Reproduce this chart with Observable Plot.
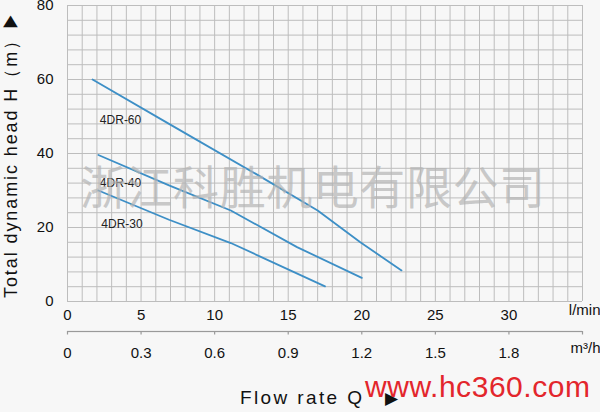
<!DOCTYPE html>
<html>
<head>
<meta charset="utf-8">
<script src="https://cdn.jsdelivr.net/npm/d3@7"></script>
<script src="https://cdn.jsdelivr.net/npm/@observablehq/plot@0.6"></script>
<style>
  html, body { margin: 0; padding: 0; background: #f7f7f7; overflow: hidden; }
  svg { display: block; }
</style>
</head>
<body>
<div id="chart"></div>
<script>
// ---- data ----
const series = ["4DR-60", "4DR-40", "4DR-30"];
const q60 = [1.7, 6.9, 12.8, 17.0, 19.9, 22.7];
const h60 = [60, 48, 34.5, 24.6, 16.0, 8.4];
const q40 = [2.1, 6.9, 11.1, 15.6, 20.0];
const h40 = [39.6, 31.4, 24.6, 14.7, 6.4];
const q30 = [2.1, 6.9, 11.1, 17.5];
const h30 = [30.0, 22.1, 15.8, 4.1];
const labelQ = [2.2, 2.2, 2.3];
const labelH = [49.1, 32.0, 20.8];
const lpmTicks = [0, 5, 10, 15, 20, 25, 30];
const m3hTicks = [0, 0.3, 0.6, 0.9, 1.2, 1.5, 1.8, 2.1];
const m3hLabels = ["0", "0.3", "0.6", "0.9", "1.2", "1.5", "1.8", ""];
const headTicks = [0, 20, 40, 60, 80];
const xMax = 35, yMax = 80;
const gridX = d3.range(0, xMax + 1, 1);
const gridY = d3.range(0, yMax + 1, 4);

// ---- build table ----
const curves = [
  ...q60.map((q, i) => ({series: series[0], q, h: h60[i]})),
  ...q40.map((q, i) => ({series: series[1], q, h: h40[i]})),
  ...q30.map((q, i) => ({series: series[2], q, h: h30[i]}))
];
const labels = series.map((s, i) => ({s, q: labelQ[i], h: labelH[i]}));
const toLpm = m => m * 1000 / 60;

const W = 600, H = 412, mT = 5, mB = 111;
const frameH = H - mT - mB;
const pxToY = px => -px * yMax / frameH;   // offset below the frame, in y units
const font = "'Liberation Sans', Arial, sans-serif";
const blue = "#3d8fc6";
const gridColor = "#bdbdbd";
const axisColor = "#9a9a9a";

const plot = Plot.plot({
  width: W,
  height: H,
  marginLeft: 67,
  marginRight: 18,
  marginTop: mT,
  marginBottom: mB,
  style: {background: "#f7f7f7", fontFamily: font, fontSize: "15px", color: "#111", overflow: "visible"},
  x: {domain: [0, xMax]},
  y: {domain: [0, yMax], clamp: false},
  marks: [
    Plot.ruleX(gridX, {stroke: gridColor, strokeWidth: 1}),
    Plot.ruleY(gridY, {stroke: gridColor, strokeWidth: 1}),
    Plot.axisY({ticks: headTicks, tickSize: 0, tickPadding: 14, label: null, fontSize: 15}),
    Plot.axisX({ticks: lpmTicks, tickSize: 0, tickPadding: 8, label: null, fontSize: 15}),
    // secondary (m³/h) axis: baseline and ticks 30px below the frame
    Plot.ruleY([pxToY(30)], {x1: 0, x2: xMax, stroke: axisColor, strokeWidth: 1.2, clip: false}),
    Plot.ruleX(m3hTicks.map(toLpm), {x: d => d, y1: pxToY(30), y2: pxToY(33.5), stroke: axisColor, strokeWidth: 1.2, clip: false}),
    Plot.axisX({ticks: m3hTicks.map(toLpm), tickSize: 0,
      tickPadding: 46, label: null, fontSize: 15,
      tickFormat: d => m3hLabels[m3hTicks.findIndex(m => Math.abs(toLpm(m) - d) < 1e-6)]}),
    Plot.line(curves, {x: "q", y: "h", z: "series", stroke: blue, strokeWidth: 1.8}),
    Plot.text(labels, {x: "q", y: "h", text: "s", textAnchor: "start", fontSize: 12, fill: "#222"}),
    Plot.text(["l/min"], {frameAnchor: "bottom-right", text: d => d, textAnchor: "end", dx: 18, dy: 13, fontSize: 15}),
    Plot.text(["m³/h"], {frameAnchor: "bottom-right", text: d => d, textAnchor: "end", dx: 18, dy: 51, fontSize: 15})
  ]
});
document.getElementById("chart").appendChild(plot);

const svg = d3.select(plot);
const xs = plot.scale("x");
const x0 = xs && xs.apply ? xs.apply(0) : 67;
const x1 = xs && xs.apply ? xs.apply(xMax) : W - 18;
const axisY2 = H - mB + 30.5;
// backup drawing of the same baseline (coincides with the Plot rule)
svg.append("rect")
  .attr("x", x0).attr("y", axisY2 - 0.6)
  .attr("width", x1 - x0).attr("height", 1.2)
  .attr("fill", axisColor);

// y-axis title (▶ rotated with the text so it points up)
svg.append("text")
  .attr("transform", "translate(17,298) rotate(-90)")
  .attr("text-anchor", "start")
  .attr("font-family", font).attr("font-size", 18).attr("fill", "#111")
  .attr("textLength", 286).attr("lengthAdjust", "spacing")
  .text("Total dynamic head H（m）▶");
// x-axis title
svg.append("text")
  .attr("x", 240).attr("y", 403.5)
  .attr("text-anchor", "start")
  .attr("font-family", font).attr("font-size", 19).attr("fill", "#111")
  .attr("textLength", 122).attr("lengthAdjust", "spacing")
  .text("Flow rate Q");
svg.append("text")
  .attr("x", 385).attr("y", 403.5)
  .attr("text-anchor", "start")
  .attr("font-family", font).attr("font-size", 17).attr("fill", "#111")
  .text("▶");
// watermarks
svg.append("text")
  .attr("x", 80).attr("y", 204)
  .attr("text-anchor", "start")
  .attr("font-family", "'Noto Sans CJK SC', sans-serif").attr("font-size", 46)
  .attr("fill", "#b4b4b4").attr("fill-opacity", 0.7)
  .attr("textLength", 465).attr("lengthAdjust", "spacing")
  .text("浙江科胜机电有限公司");
svg.append("text")
  .attr("x", 365).attr("y", 397)
  .attr("text-anchor", "start")
  .attr("font-family", font).attr("font-size", 30)
  .attr("fill", "#e3262c")
  .attr("textLength", 225).attr("lengthAdjust", "spacing")
  .text("www.hc360.com");
</script>
</body>
</html>
